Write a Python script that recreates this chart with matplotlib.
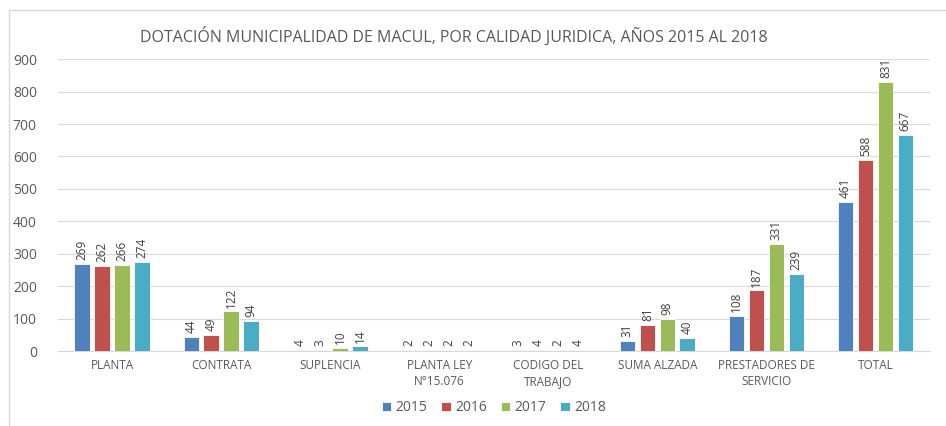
import numpy as np
import matplotlib.pyplot as plt
from matplotlib.patches import Rectangle

plt.rcParams['font.family'] = ['Open Sans', 'DejaVu Sans']

categories = ['PLANTA', 'CONTRATA', 'SUPLENCIA', 'PLANTA LEY\nN°15.076', 'CODIGO DEL\nTRABAJO',
              'SUMA ALZADA', 'PRESTADORES DE\nSERVICIO', 'TOTAL']
years = ['2015', '2016', '2017', '2018']
v2015 = [269, 44, 4, 2, 3, 31, 108, 461]
v2016 = [262, 49, 3, 2, 4, 81, 187, 588]
v2017 = [266, 122, 10, 2, 2, 98, 331, 831]
v2018 = [274, 94, 14, 2, 4, 40, 239, 667]
colors = ['#4F81BD', '#C0504D', '#9BBB59', '#4BACC6']

fig = plt.figure(figsize=(9.46, 4.26), dpi=100)
ax = fig.add_axes([0.061, 0.176, 0.922, 0.685])

# outer chart border
fig.patches.append(Rectangle((9 / 946, -0.05), 1.0, 1 - 10 / 426 + 0.05, transform=fig.transFigure,
                             fill=False, edgecolor='#D9D9D9', linewidth=1))

x = np.arange(len(categories))
width = 0.143
step = 0.183
for i, (vals, c, y) in enumerate(zip([v2015, v2016, v2017, v2018], colors, years)):
    pos = x + (i - 1.5) * step
    ax.bar(pos, vals, width, color=c, edgecolor='white', linewidth=0.6, label=y, zorder=3)
    for p, v in zip(pos, vals):
        ax.text(p, v + 12, str(v), rotation=90, ha='center', va='bottom', fontsize=8.5, color='#404040')

ax.set_xlim(-0.5, len(categories) - 0.5)
ax.set_ylim(0, 900)
ax.set_yticks(range(0, 901, 100))
ax.set_xticks(x)
ax.set_xticklabels(categories, fontsize=8.5, color='#595959', linespacing=1.3)
ax.tick_params(axis='y', labelsize=10, colors='#595959', length=0, pad=15)
ax.tick_params(axis='x', length=0, pad=6)
ax.grid(axis='y', color='#D9D9D9', linewidth=0.8, zorder=0)
for s in ['top', 'right', 'left']:
    ax.spines[s].set_visible(False)
ax.spines['bottom'].set_color('#D9D9D9')

fig.text(0.48, 0.915, 'DOTACIÓN MUNICIPALIDAD DE MACUL, POR CALIDAD JURIDICA, AÑOS 2015 AL 2018',
         ha='center', va='center', fontsize=11.5, color='#595959')

ax.legend(loc='center', bbox_to_anchor=(0.5, -0.195), ncol=4, frameon=False, fontsize=10,
          handlelength=0.7, handleheight=0.7, handletextpad=0.3, columnspacing=1.0,
          labelcolor='#595959')

fig.savefig('out.png', dpi=100)
